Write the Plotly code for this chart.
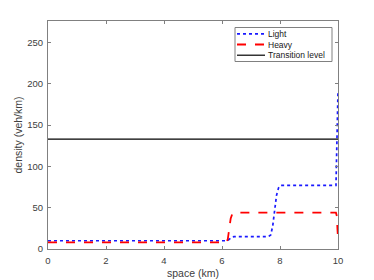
import plotly.graph_objects as go

light_x = [0, 6.15, 6.22, 6.28, 6.35, 6.42, 7.6, 7.68, 7.75, 7.82, 7.88, 7.95, 8.02, 9.93, 9.95, 9.97, 9.99, 10]
light_y = [10, 10, 11, 13, 14.5, 15, 15, 17, 28, 48, 65, 74, 77, 77, 100, 140, 175, 192]

heavy_x = [0, 6.15, 6.2, 6.25, 6.3, 6.35, 6.42, 9.93, 9.96, 9.98, 10]
heavy_y = [8, 8, 12, 25, 37, 42, 44, 44, 40, 25, 13]

trans_x = [0, 10]
trans_y = [133, 133]

series_names = ["Light", "Heavy", "Transition level"]
series_colors = ["#1a1aff", "#ff0000", "#000000"]
series_dash = ["dot", "dash", "solid"]
series_width = [1.7, 1.8, 1.2]

x_ticks = [0, 2, 4, 6, 8, 10]
y_ticks = [0, 50, 100, 150, 200, 250]

FONT = "Liberation Sans, Arial, sans-serif"
OFF = 8  # default page body margin
W, H = 374 - OFF, 280 - OFF
# plot area in screen pixels: x 48..338, y 21..249
SL, SR, ST, SB = 48, 338, 21, 249
L, T = SL - OFF, ST - OFF
R, B = W - (SR - OFF), H - (SB - OFF)
PW, PH = SR - SL, SB - ST

fig = go.Figure()
for xs, ys, name, c, d, w in zip([light_x, heavy_x, trans_x], [light_y, heavy_y, trans_y],
                                  series_names, series_colors, series_dash, series_width):
    fig.add_trace(go.Scatter(x=xs, y=ys, mode="lines", name=name,
                             line=dict(color=c, width=w, dash=d), showlegend=False))

axis_common = dict(showgrid=False, zeroline=False, showline=True, linecolor="#808080",
                   linewidth=1, mirror="ticks", ticks="inside", ticklen=3, tickcolor="#808080",
                   automargin=False,
                   tickfont=dict(size=9.5, color="#404040", family=FONT))

def px_x(p):
    return (p - SL) / PW

def px_y(p):
    return (SB - p) / PH

# legend box (screen pixel positions)
shapes = [dict(type="rect", xref="paper", yref="paper",
               x0=px_x(235), x1=px_x(332), y0=px_y(61.5), y1=px_y(27.5),
               line=dict(color="#808080", width=1), fillcolor="white", layer="above")]
annotations = []
rows = [33.8, 44.5, 55.2]
for ry, name, c, d, w in zip(rows, series_names, series_colors, series_dash, series_width):
    shapes.append(dict(type="line", xref="paper", yref="paper",
                       x0=px_x(237), x1=px_x(265), y0=px_y(ry), y1=px_y(ry),
                       line=dict(color=c, width=w, dash=d), layer="above"))
    annotations.append(dict(xref="paper", yref="paper", x=px_x(266), y=px_y(ry),
                            xanchor="left", yanchor="middle", showarrow=False, text=name,
                            font=dict(size=8.5, color="#202020", family=FONT)))

fig.update_layout(
    width=W, height=H,
    margin=dict(l=L, r=R, t=T, b=B, pad=0),
    plot_bgcolor="white", paper_bgcolor="white",
    font=dict(family=FONT, size=10, color="#404040"),
    xaxis=dict(range=[0, 10], tickvals=x_ticks, ticklabelstandoff=3,
               title=dict(text="space (km)", font=dict(size=10.5, color="#404040"), standoff=4),
               **axis_common),
    yaxis=dict(range=[0, 276], tickvals=y_ticks, ticklabelstandoff=2,
               title=dict(text="density (veh/km)", font=dict(size=10.5, color="#404040"), standoff=2),
               **axis_common),
    shapes=shapes,
    annotations=annotations,
    showlegend=False,
)

fig.write_html("out.html")
